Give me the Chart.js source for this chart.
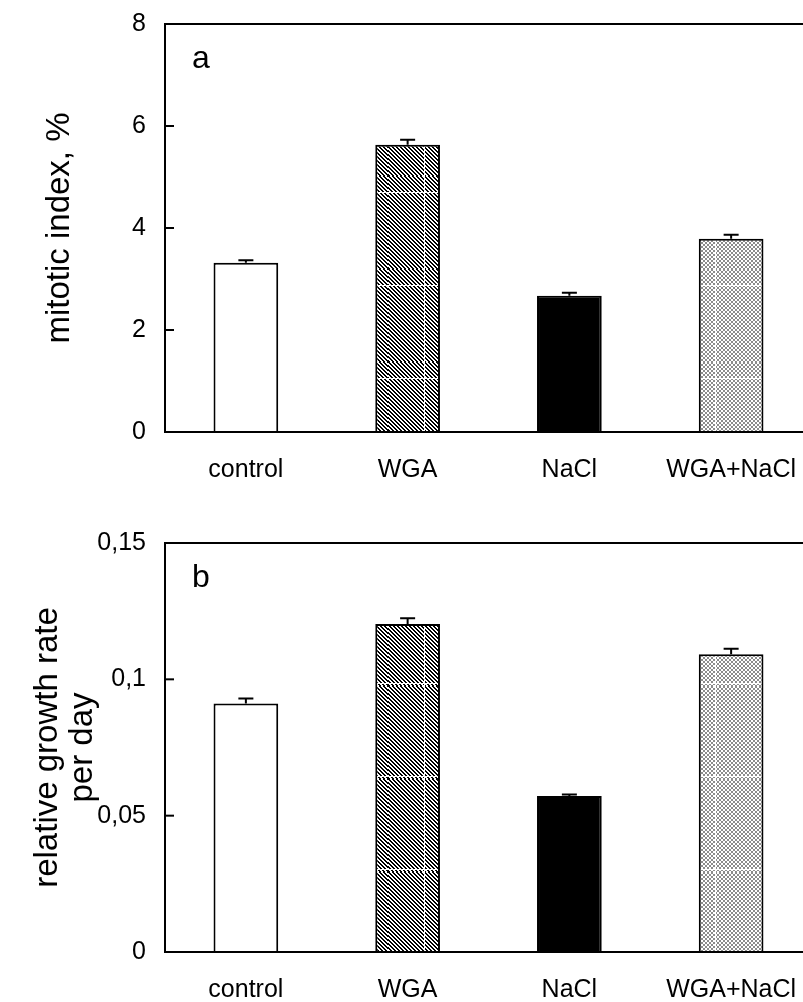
<!DOCTYPE html>
<html>
<head>
<meta charset="utf-8">
<script src="https://cdn.jsdelivr.net/npm/chart.js@4.4.1/dist/chart.umd.min.js"></script>
<style>
html,body{margin:0;padding:0;background:#fff;overflow:hidden;width:803px;height:1002px}
canvas{position:absolute;left:0}
#chartA{top:-10px}
#chartB{top:500px}
</style>
</head>
<body>
<canvas id="chartA" width="830" height="510"></canvas>
<canvas id="chartB" width="830" height="502"></canvas>
<script>
// treatments, same for both panels
const categories = ['control', 'WGA', 'NaCl', 'WGA+NaCl'];

// panel a - mitotic index, %
const mitoticIndex = [3.32, 5.63, 2.67, 3.79];
const mitoticErr   = [0.05, 0.10, 0.06, 0.08];
const ticksA = ['0', '2', '4', '6', '8'];

// panel b - relative growth rate per day
const growthRate = [0.0911, 0.1203, 0.0572, 0.1092];
const growthErr  = [0.0019, 0.0021, 0.0006, 0.0020];
const ticksB = ['0', '0,05', '0,1', '0,15'];

const FONT = 'Arial, "Liberation Sans", sans-serif';

// pattern tile with white seams, like the printed fill
function makeTile(w, h, seamX, seamY, paint){
  const c = document.createElement('canvas');
  c.width = w; c.height = h;
  const g = c.getContext('2d');
  const img = g.createImageData(w, h);
  for(let y=0; y<h; y++){
    for(let x=0; x<w; x++){
      let v = paint(x, y);
      if(x===seamX || y===seamY) v = 255;
      const i = (y*w + x)*4;
      img.data[i] = img.data[i+1] = img.data[i+2] = v;
      img.data[i+3] = 255;
    }
  }
  g.putImageData(img, 0, 0);
  return c;
}
const hatch = (x,y)=> ((((x - y) % 4) + 4) % 4) < 2 ? 0 : 255;
const checker = (x,y)=> (((x>>1) + (y>>1)) % 2 === 0) ? 140 : 255;

// error bars, frame, inward ticks and the panel letter
const decor = {
  id: 'decor',
  afterDatasetsDraw(chart, args, opts){
    const {ctx, chartArea: a, scales: {y}} = chart;
    const ds = chart.data.datasets[0];
    ctx.save();
    ctx.strokeStyle = '#000';
    ctx.lineWidth = 2;
    chart.getDatasetMeta(0).data.forEach((bar, i)=>{
      const top = y.getPixelForValue(ds.data[i]);
      const hi = y.getPixelForValue(ds.data[i] + opts.err[i]);
      ctx.beginPath();
      ctx.moveTo(bar.x, top); ctx.lineTo(bar.x, hi);
      ctx.moveTo(bar.x - 7.5, hi); ctx.lineTo(bar.x + 7.5, hi);
      ctx.stroke();
    });
    ctx.beginPath();
    ctx.moveTo(a.right, a.top); ctx.lineTo(a.left, a.top);
    ctx.lineTo(a.left, a.bottom); ctx.lineTo(a.right, a.bottom);
    ctx.stroke();
    y.ticks.forEach(t=>{
      const py = y.getPixelForValue(t.value);
      ctx.beginPath(); ctx.moveTo(a.left, py); ctx.lineTo(a.left + 9, py); ctx.stroke();
    });
    ctx.fillStyle = '#000';
    ctx.font = '32px ' + FONT;
    ctx.textBaseline = 'alphabetic';
    ctx.fillText(opts.letter, a.left + 27, a.top + 44);
    ctx.restore();
  }
};

function panel(id, values, err, tickLabels, yMax, step, title, titlePad, letter, padTop, xHeight, seamY){
  const canvas = document.getElementById(id);
  const ctx = canvas.getContext('2d');
  const hatchFill = ctx.createPattern(makeTile(97, 93, 36, seamY, hatch), 'repeat');
  const checkFill = ctx.createPattern(makeTile(97, 93, 36, seamY, checker), 'repeat');
  return new Chart(ctx, {
    type: 'bar',
    data: {
      labels: categories,
      datasets: [{
        data: values,
        backgroundColor: ['#fff', hatchFill, '#000', checkFill],
        borderColor: '#000',
        borderWidth: 2,
        categoryPercentage: 1,
        barPercentage: 0.4
      }]
    },
    options: {
      responsive: false,
      animation: false,
      layout: {padding: {top: padTop, right: 18, left: 0, bottom: 0}},
      plugins: {legend: {display: false}, tooltip: {enabled: false}, decor: {err, letter}},
      scales: {
        x: {
          grid: {display: false, drawTicks: false},
          border: {display: false},
          ticks: {color: '#000', font: {size: 25, family: FONT}, padding: 23, maxRotation: 0, autoSkip: false},
          afterFit: s=>{ s.height = xHeight; }
        },
        y: {
          min: 0, max: yMax,
          grid: {display: false, drawTicks: false},
          border: {display: false},
          ticks: {
            stepSize: step, color: '#000', padding: 19,
            font: {size: 25, family: FONT},
            callback: (v, i)=> tickLabels[i]
          },
          title: {
            display: true, text: title, color: '#000',
            font: {size: 33, family: FONT, lineHeight: 1.05},
            padding: {top: titlePad, bottom: 0}
          },
          afterFit: s=>{ s.width = 165; }
        }
      }
    },
    plugins: [decor]
  });
}

panel('chartA', mitoticIndex, mitoticErr, ticksA, 8, 2, 'mitotic index, %', 43, 'a', 33, 68, 16);
panel('chartB', growthRate, growthErr, ticksB, 0.15, 0.05, ['relative growth rate', 'per day'], 31, 'b', 43, 50, 90);
</script>
</body>
</html>
